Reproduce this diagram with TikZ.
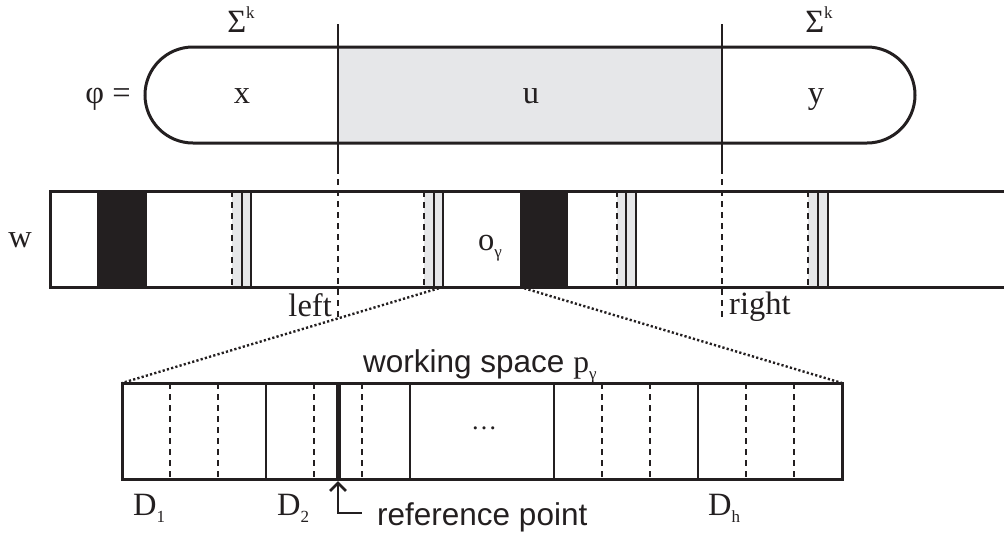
\documentclass[tikz,border=0pt]{standalone}
\usepackage{fontspec}
\setmainfont{Liberation Serif}
\newfontfamily\sansf{Liberation Sans}
\usetikzlibrary{arrows.meta}
\definecolor{lgray}{HTML}{E6E7E9}
\definecolor{ink}{HTML}{231F20}
\newcommand\sbs[1]{\raisebox{-7pt}{\fontsize{17}{17}\selectfont #1}}
\newcommand\sps[1]{\raisebox{14pt}{\fontsize{17}{17}\selectfont #1}}
\begin{document}
\begin{tikzpicture}[x=1pt,y=-1pt,
  outline/.style={draw=ink, line width=3pt},
  solidln/.style={draw=ink, line width=2.8pt},
  dashln/.style={draw=ink, line width=2.8pt, dash pattern=on 5.5pt off 5.5pt},
  dotln/.style={draw=ink, line width=2.4pt, dash pattern=on 2.2pt off 2.2pt},
  lbl/.style={inner sep=0pt, text=ink, font=\fontsize{32.5}{38}\selectfont},
  slbl/.style={inner sep=0pt, text=ink, font=\sansf\fontsize{31.5}{38}\selectfont},
  ]
\useasboundingbox (0,0) rectangle (1004,539);
% top pill
\fill[lgray] (338,47) rectangle (722,143);
\draw[outline, rounded corners=48pt] (145,47) rectangle (915,143);
\draw[solidln] (338,24) -- (338,168);
\draw[solidln] (722,24) -- (722,168);
\draw[dashln] (338,168) -- (338,318);
\draw[dashln] (722,168) -- (722,318);
% labels top
\node[lbl, anchor=base] (s1) at (241,32) {Σ\sps{k}};
\node[lbl, anchor=base] (s2) at (819,32) {Σ\sps{k}};
\node[lbl, anchor=base] (phi) at (108,103) {φ =};
\node[lbl, anchor=base] (xl) at (242,103) {x};
\node[lbl, anchor=base] (ul) at (531,103) {u};
\node[lbl, anchor=base] (yl) at (816,103) {y};
% w bar
\fill[ink] (97,191) rectangle (147,287);
\fill[ink] (520,191) rectangle (568,287);
\foreach \a/\b/\c in {232/242/251, 424/434/443, 617/626/636, 808/818/828}{
  \fill[lgray] (\a,191) rectangle (\c,287);
  \draw[dashln] (\a,191) -- (\a,287);
  \draw[solidln] (\b,191) -- (\b,287);
  \draw[solidln] (\c,191) -- (\c,287);
}
\draw[outline] (1004,191) -- (50,191) -- (50,287) -- (1004,287);
\node[lbl, anchor=base] (wl) at (20,247) {w};
\node[lbl, anchor=base] (ol) at (490,250) {o\sbs{γ}};
\node[lbl, anchor=base east] (leftl) at (332,316) {left};
\node[lbl, anchor=base west] (rightl) at (729,314) {right};
% connectors
\coordinate (c1) at (443,287);
\coordinate (c2) at (520,287);
\coordinate (wtl) at (122,383);
\coordinate (wtr) at (842,383);
\draw[dotln] (c1) -- (wtl);
\draw[dotln] (c2) -- (wtr);
% working space
\draw[outline] (122,383) rectangle (842,479);
\foreach \x in {266,410,554,698}{\draw[solidln] (\x,383) -- (\x,479);}
\foreach \x in {170,218,314,362,602,650,746,794}{\draw[dashln] (\x,383) -- (\x,479);}
\draw[draw=ink, line width=5pt] (338,383) -- (338,479);
\node[slbl, anchor=base west] (ws) at (363,372) {working space \textrm{p\sbs{γ}}};
\node[lbl, anchor=center] (dots) at (484,428) {\fontsize{26}{26}\selectfont\dots};
\node[lbl, anchor=base west] (d1) at (133,515) {D\sbs{1}};
\node[lbl, anchor=base west] (d2) at (277,515) {D\sbs{2}};
\node[lbl, anchor=base west] (dh) at (708,515) {D\sbs{h}};
\node[slbl, anchor=base west] (rp) at (377,525) {reference point};
\coordinate (rtip) at (338,481);
\coordinate (rc) at (338,513);
\coordinate (rend) at (362,513);
\draw[solidln, {Straight Barb[length=8pt, width=16pt]}-] (rtip) -- (rc) -- (rend);
\end{tikzpicture}
\end{document}
